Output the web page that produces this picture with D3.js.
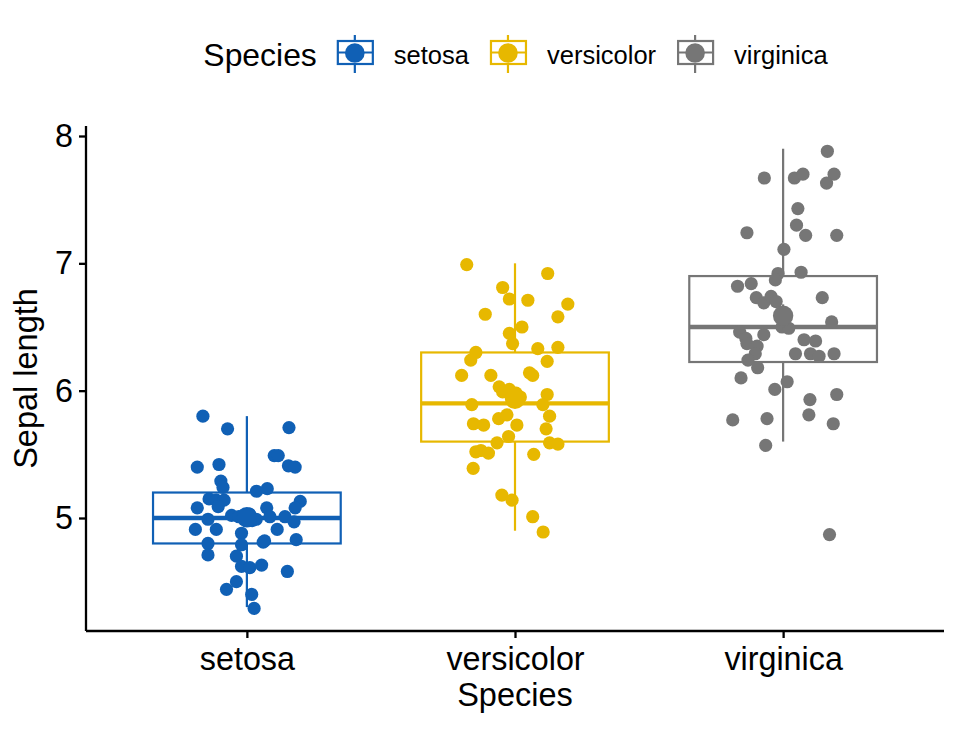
<!DOCTYPE html>
<html>
<head>
<meta charset="utf-8">
<script src="https://cdn.jsdelivr.net/npm/d3@7"></script>
<style>
  body { margin: 0; background: #fff; }
  text { font-family: "Liberation Sans", Arial, sans-serif; fill: #000; }
</style>
</head>
<body>
<script>
// categories + palette
const species = ["setosa", "versicolor", "virginica"];
const colors = ["#1060B5", "#E7B800", "#767676"];

// box stats
const boxQ1  = [4.8, 5.6, 6.225];
const boxMed = [5.0, 5.9, 6.5];
const boxQ3  = [5.2, 6.3, 6.9];
const whiskLo = [4.3, 4.9, 5.6];
const whiskHi = [5.8, 7.0, 7.9];
const means = [5.006, 5.936, 6.588];
const ses   = [0.050, 0.073, 0.090];

// jittered points: value + horizontal offset (in category steps)
const setosaVal = [5.80,5.70,5.71,5.49,5.49,5.41,5.40,5.40,5.42,5.29,5.24,5.21,5.23,5.15,5.14,5.14,5.09,5.08,5.08,5.13,
  5.08,5.02,4.99,5.01,5.01,4.97,4.91,4.91,4.88,4.79,4.91,4.81,4.82,4.83,4.80,4.71,4.70,4.62,4.61,4.63,
  4.58,4.50,4.44,4.40,4.29,5.00,4.98,5.03,5.01,4.99];
const setosaJit = [-0.164,-0.072,0.157,0.102,0.117,0.155,0.180,-0.185,-0.104,-0.097,-0.089,0.036,0.076,-0.141,-0.114,-0.085,-0.107,-0.185,0.074,0.199,
  0.180,-0.057,-0.145,0.086,0.142,0.176,-0.192,-0.114,-0.020,-0.020,0.113,0.061,0.066,0.184,-0.145,-0.145,-0.039,-0.020,0.011,0.055,
  0.151,-0.039,-0.076,0.018,0.027,-0.010,0.020,0.010,-0.030,0.035];

const versicolorVal = [6.99,6.92,6.81,6.72,6.71,6.68,6.60,6.58,6.50,6.45,6.37,6.30,6.24,6.33,6.34,6.23,6.12,6.12,6.14,6.12,
  6.03,5.99,6.01,5.98,5.94,5.93,5.97,5.89,5.89,5.80,5.78,5.81,5.74,5.73,5.73,5.70,5.64,5.59,5.59,5.58,
  5.52,5.53,5.51,5.50,5.39,5.18,5.14,5.01,4.89,5.95];
const versicolorJit = [-0.180,0.122,-0.046,-0.021,0.048,0.197,-0.111,0.160,0.026,-0.021,-0.009,-0.146,-0.165,0.085,0.160,0.120,-0.199,-0.090,0.054,0.066,
  -0.059,-0.046,-0.021,0.004,0.010,-0.009,0.120,-0.161,0.104,0.129,-0.061,-0.030,-0.155,-0.117,0.007,0.116,-0.024,-0.067,0.129,0.160,
  -0.146,-0.127,-0.099,0.070,-0.156,-0.049,-0.011,0.066,0.105,0.020];

const virginicaVal = [7.88,7.67,7.67,7.70,7.70,7.63,7.43,7.30,7.22,7.24,7.22,7.11,6.92,6.87,6.93,6.82,6.84,6.73,6.69,6.74,
  6.70,6.73,6.54,6.50,6.49,6.46,6.41,6.37,6.44,6.40,6.39,6.35,6.29,6.29,6.29,6.27,6.29,6.24,6.18,6.10,
  6.07,6.01,5.93,5.97,5.77,5.78,5.81,5.74,5.57,4.87];
const virginicaJit = [0.165,-0.070,0.042,0.074,0.190,0.162,0.055,0.050,0.084,-0.135,0.200,0.003,-0.019,-0.029,0.067,-0.170,-0.119,-0.100,-0.072,-0.045,
  -0.026,0.146,0.181,-0.004,0.021,-0.162,-0.139,-0.135,-0.072,0.078,0.121,-0.097,-0.104,0.046,0.102,0.134,0.190,-0.131,-0.095,-0.157,
  0.015,-0.031,0.100,0.200,-0.188,-0.060,0.096,0.187,-0.065,0.173];

const yTicks = [5, 6, 7, 8];

const width = 960, height = 729;
const margin = {top: 126, right: 16, bottom: 98, left: 86};

const svg = d3.select("body").append("svg")
  .attr("width", width)
  .attr("height", height);

const xScale = d3.scalePoint()
  .domain(species)
  .range([margin.left, width - margin.right])
  .padding(0.6);

const yScale = d3.scaleLinear()
  .domain([4.1125, 8.0785])
  .range([height - margin.bottom, margin.top]);

const step = xScale.step();
const boxW = 0.7 * step;

let allPoints = [];
[[setosaVal, setosaJit], [versicolorVal, versicolorJit], [virginicaVal, virginicaJit]].forEach(function(p, i) {
  p[0].forEach(function(v, k) {
    allPoints.push({sp: species[i], col: colors[i], val: v, jit: p[1][k]});
  });
});

// boxes
const boxes = svg.append("g").attr("class", "boxes");
species.forEach(function(s, i) {
  const cx = xScale(s);
  const g = boxes.append("g").attr("stroke", colors[i]).attr("fill", "none");
  g.append("line")
    .attr("x1", cx).attr("x2", cx)
    .attr("y1", yScale(boxQ3[i])).attr("y2", yScale(whiskHi[i]))
    .attr("stroke-width", 2.2);
  g.append("line")
    .attr("x1", cx).attr("x2", cx)
    .attr("y1", yScale(boxQ1[i])).attr("y2", yScale(whiskLo[i]))
    .attr("stroke-width", 2.2);
  g.append("rect")
    .attr("x", cx - boxW / 2)
    .attr("y", yScale(boxQ3[i]))
    .attr("width", boxW)
    .attr("height", yScale(boxQ1[i]) - yScale(boxQ3[i]))
    .attr("fill", "#fff")
    .attr("stroke-width", 2.2);
  g.append("line")
    .attr("x1", cx - boxW / 2).attr("x2", cx + boxW / 2)
    .attr("y1", yScale(boxMed[i])).attr("y2", yScale(boxMed[i]))
    .attr("stroke-width", 4.4);
});

// jitter
svg.append("g")
  .attr("class", "points")
  .selectAll("circle")
  .data(allPoints)
  .join("circle")
  .attr("cx", d => xScale(d.sp) + d.jit * step)
  .attr("cy", d => yScale(d.val))
  .attr("r", 6.6)
  .attr("fill", d => d.col);

// mean +- se
const ms = svg.append("g").attr("class", "means");
species.forEach(function(s, i) {
  const cx = xScale(s);
  ms.append("line")
    .attr("x1", cx).attr("x2", cx)
    .attr("y1", yScale(means[i] - ses[i])).attr("y2", yScale(means[i] + ses[i]))
    .attr("stroke", colors[i]).attr("stroke-width", 2.2);
  ms.append("circle")
    .attr("cx", cx).attr("cy", yScale(means[i]))
    .attr("r", 10.2)
    .attr("fill", colors[i]);
});

// axes
const xAxis = svg.append("g")
  .attr("transform", "translate(0," + (height - margin.bottom) + ")")
  .call(d3.axisBottom(xScale).tickSize(7).tickPadding(9).tickSizeOuter(0));
const yAxis = svg.append("g")
  .attr("transform", "translate(" + margin.left + ",0)")
  .call(d3.axisLeft(yScale).tickValues(yTicks).tickFormat(d3.format("d")).tickSize(7).tickPadding(6).tickSizeOuter(0));

[xAxis, yAxis].forEach(function(a) {
  a.select(".domain").attr("stroke", "#000").attr("stroke-width", 2.3);
  a.selectAll(".tick line").attr("stroke", "#000").attr("stroke-width", 2.3);
  a.selectAll(".tick text").attr("font-size", 32.3).attr("fill", "#000")
    .attr("font-family", "Liberation Sans, Arial, sans-serif");
});
// extend x domain to meet y axis
xAxis.select(".domain").attr("d", "M" + margin.left + ",0H" + (width - margin.right));
yAxis.select(".domain").attr("d", "M0," + (height - margin.bottom) + "V" + margin.top);

svg.append("text")
  .attr("x", (margin.left + width - margin.right) / 2)
  .attr("y", 706)
  .attr("text-anchor", "middle")
  .attr("font-size", 32.5)
  .text("Species");

svg.append("text")
  .attr("transform", "translate(37," + ((margin.top + height - margin.bottom) / 2) + ") rotate(-90)")
  .attr("text-anchor", "middle")
  .attr("font-size", 32.5)
  .text("Sepal length");

// legend
const legend = svg.append("g").attr("class", "legend");
const title = legend.append("text")
  .attr("x", 0).attr("y", 66)
  .attr("font-size", 31.9)
  .text("Species");
let lx = title.node().getComputedTextLength() + 20;
species.forEach(function(s, i) {
  const k = legend.append("g").attr("transform", "translate(" + lx + ",0)");
  k.append("line")
    .attr("x1", 18).attr("x2", 18).attr("y1", 35).attr("y2", 73)
    .attr("stroke", colors[i]).attr("stroke-width", 2.2);
  k.append("rect")
    .attr("x", 1).attr("y", 41).attr("width", 35).attr("height", 23)
    .attr("fill", "#fff").attr("stroke", colors[i]).attr("stroke-width", 2.2);
  k.append("line")
    .attr("x1", 1).attr("x2", 36).attr("y1", 52.5).attr("y2", 52.5)
    .attr("stroke", colors[i]).attr("stroke-width", 2.2);
  k.append("circle")
    .attr("cx", 18).attr("cy", 53).attr("r", 9.8)
    .attr("fill", colors[i]);
  const t = k.append("text")
    .attr("x", 57).attr("y", 64)
    .attr("font-size", 25.5)
    .text(s);
  lx += 57 + t.node().getComputedTextLength() + 21;
});
const lw = lx - 21;
legend.attr("transform", "translate(" + (515.5 - lw / 2) + ",0)");
</script>
</body>
</html>
